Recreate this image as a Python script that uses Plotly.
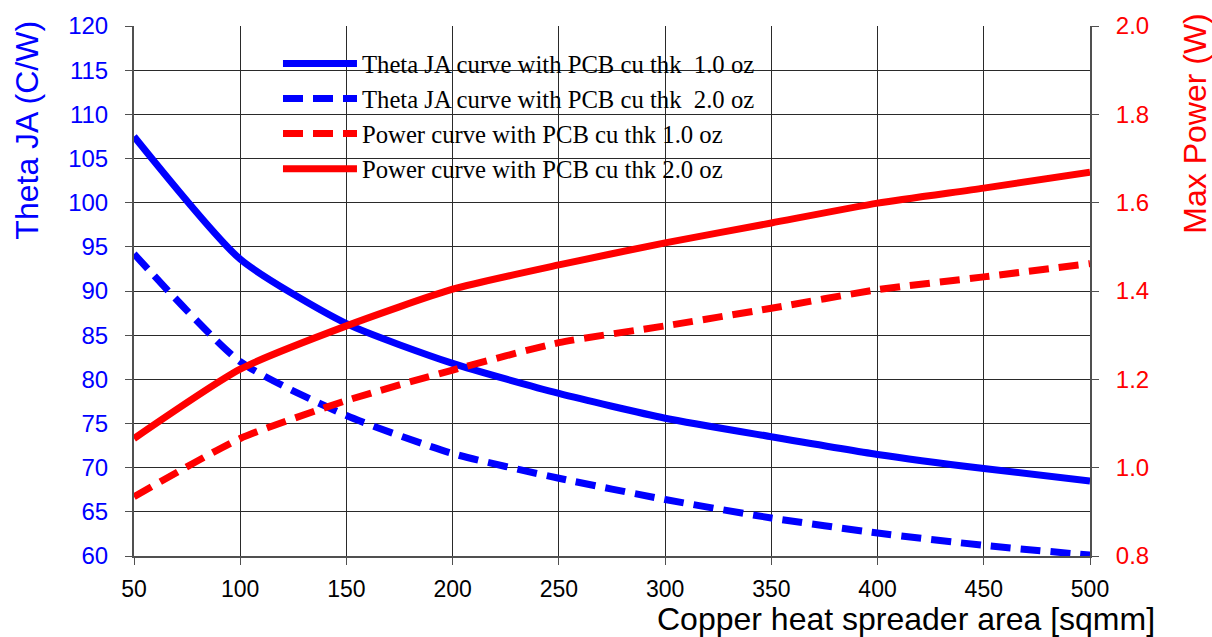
import plotly.graph_objects as go

area = [50, 100, 150, 200, 250, 300, 350, 400, 450, 500]
theta_1oz = [107.5, 93.6, 86.3, 81.8, 78.4, 75.6, 73.5, 71.5, 69.9, 68.5]
theta_2oz = [94.2, 82.0, 75.9, 71.6, 68.8, 66.4, 64.3, 62.6, 61.2, 60.1]
power_1oz = [0.934, 1.066, 1.152, 1.221, 1.283, 1.321, 1.361, 1.403, 1.432, 1.462]
power_2oz = [1.066, 1.223, 1.321, 1.404, 1.459, 1.509, 1.554, 1.599, 1.633, 1.669]

names = [
    "Theta JA curve with PCB cu thk\u00a0 1.0 oz",
    "Theta JA curve with PCB cu thk\u00a0 2.0 oz",
    "Power curve with PCB cu thk 1.0 oz",
    "Power curve with PCB cu thk 2.0 oz",
]

BLUE = "#0000FF"
RED = "#FF0000"
LW = 7
DASH = "20px,10px"
SM = 0.6

fig = go.Figure()
fig.add_trace(go.Scatter(x=area, y=theta_1oz, name=names[0], mode="lines", legendgroup="a",
                         line=dict(color=BLUE, width=LW, shape="spline", smoothing=SM)))
fig.add_trace(go.Scatter(x=area, y=theta_2oz, name=names[1], mode="lines", legendgroup="b",
                         line=dict(color=BLUE, width=LW, dash=DASH, shape="spline", smoothing=SM)))
fig.add_trace(go.Scatter(x=area, y=power_1oz, name=names[2], mode="lines", yaxis="y2", legendgroup="c",
                         line=dict(color=RED, width=LW, dash=DASH, shape="spline", smoothing=SM)))
fig.add_trace(go.Scatter(x=area, y=power_2oz, name=names[3], mode="lines", yaxis="y2", legendgroup="d",
                         line=dict(color=RED, width=LW, shape="spline", smoothing=SM)))

GRID = "#2a2a2a"
AX = "#505050"

fig.update_layout(
    width=1212, height=637,
    margin=dict(l=134, r=122, t=24, b=81),
    paper_bgcolor="white", plot_bgcolor="white",
    font=dict(family="Arial, Liberation Sans, sans-serif", color="black"),
    xaxis=dict(range=[50, 500], dtick=50, tick0=50, showgrid=True, gridcolor=GRID, gridwidth=1,
               ticks="outside", ticklen=7, tickcolor=AX, showline=True, linecolor=AX, linewidth=2,
               tickfont=dict(size=23, color="black"), ticklabelstandoff=4, zeroline=False),
    yaxis=dict(range=[60, 120], dtick=5, tick0=60, showgrid=True, gridcolor=GRID, gridwidth=1,
               ticks="outside", ticklen=7, tickcolor=AX, showline=True, linecolor=AX, linewidth=2,
               tickfont=dict(size=24, color=BLUE), ticklabelstandoff=12, zeroline=False),
    yaxis2=dict(range=[0.8, 2.0], dtick=0.2, tick0=0.8, tickformat=".1f", overlaying="y", side="right",
                showgrid=False, ticks="outside", ticklen=7, tickcolor=AX, showline=True,
                linecolor=AX, linewidth=2, tickfont=dict(size=24, color=RED),
                ticklabelstandoff=12, zeroline=False),
    showlegend=True,
    legend=dict(x=0.1506, y=0.972, xanchor="left", yanchor="top", bgcolor="rgba(0,0,0,0)",
                font=dict(family="Liberation Serif, Times New Roman, serif", size=24.7, color="black"),
                itemwidth=74, tracegroupgap=0),
    shapes=[dict(type="rect", xref="paper", yref="paper", x0=0.0879, x1=0.7103, y0=0.6974, y1=0.9605,
                 fillcolor="white", line=dict(width=0), layer="between")],
    annotations=[
        dict(text="Theta JA (C/W)", xref="paper", yref="paper", x=-0.1119, y=0.8026,
             xanchor="center", yanchor="middle", textangle=-90, showarrow=False,
             font=dict(size=32, color=BLUE)),
        dict(text="Max Power (W)", xref="paper", yref="paper", x=1.1099, y=0.8158,
             xanchor="center", yanchor="middle", textangle=-90, showarrow=False,
             font=dict(size=32, color=RED)),
        dict(text="Copper heat spreader area [sqmm]", xref="paper", yref="paper", x=1.0701, y=-0.1184,
             xanchor="right", yanchor="middle", showarrow=False,
             font=dict(size=32, color="black")),
    ],
)

fig.write_html("out.html")
